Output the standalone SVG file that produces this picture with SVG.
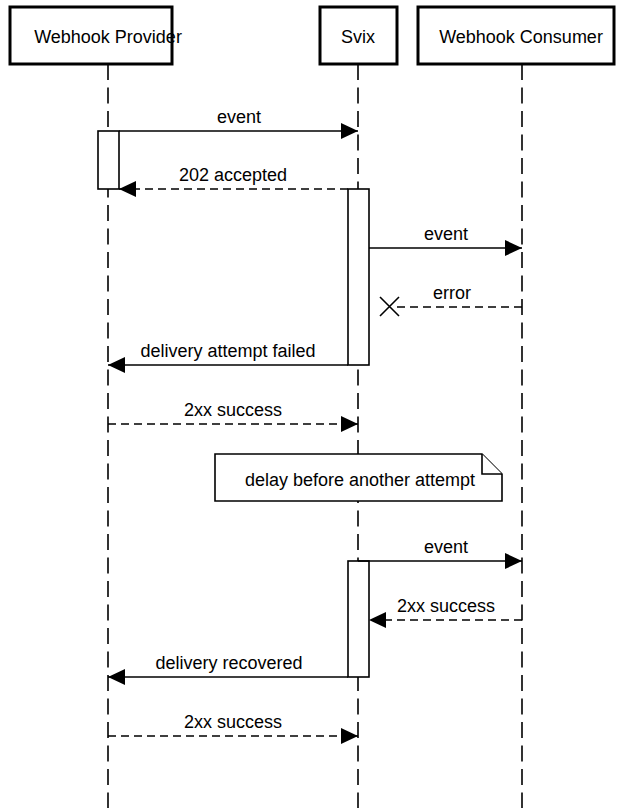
<svg xmlns="http://www.w3.org/2000/svg" width="620" height="808" viewBox="0 0 620 808">
<defs>
<marker id="arr" markerWidth="18" markerHeight="16" refX="17" refY="8" orient="auto" markerUnits="userSpaceOnUse">
<path d="M0,0 L17,8 L0,16 Z" fill="#000"/>
</marker>
</defs>
<style>
.actor{fill:#fff;stroke:#000;stroke-width:3}
.life{stroke:#000;stroke-width:1.6;stroke-dasharray:16 7.5;fill:none}
.act{fill:#fff;stroke:#000;stroke-width:1.6}
.msg{stroke:#000;stroke-width:1.6;fill:none}
.ret{stroke:#000;stroke-width:1.6;fill:none;stroke-dasharray:8 5}
text{font-family:"Liberation Sans",Arial,sans-serif;font-size:18px;fill:#000;text-anchor:middle}
.note{fill:#fff;stroke:#000;stroke-width:1.6}
</style>
<g id="lifelines">
<line class="life" x1="108" y1="64" x2="108" y2="808"/>
<line class="life" x1="358" y1="64" x2="358" y2="808"/>
<line class="life" x1="522" y1="64" x2="522" y2="808"/>
</g>
<g id="provider">
<rect class="actor" x="10" y="7" width="162" height="57"/>
<text x="108" y="43">Webhook Provider</text>
</g>
<g id="svix">
<rect class="actor" x="320" y="7" width="77" height="57"/>
<text x="358" y="43">Svix</text>
</g>
<g id="consumer">
<rect class="actor" x="418" y="7" width="196" height="57"/>
<text x="521" y="43">Webhook Consumer</text>
</g>
<g id="activations">
<rect class="act" x="98" y="131" width="21" height="58"/>
<rect class="act" x="348" y="189" width="21" height="176"/>
<rect class="act" x="348" y="561" width="21" height="116"/>
</g>
<g id="note">
<path class="note" d="M215,454 H482 L502,474 V501 H215 Z"/>
<path class="note" d="M482,454 V474 H502" fill="none"/>
<text x="360" y="486">delay before another attempt</text>
</g>
<g id="connectors">
<line class="msg" x1="119" y1="131" x2="358" y2="131" marker-end="url(#arr)"/>
<text x="239" y="123">event</text>
<line class="ret" x1="348" y1="189" x2="119" y2="189" marker-end="url(#arr)"/>
<text x="233" y="181">202 accepted</text>
<line class="msg" x1="369" y1="248" x2="522" y2="248" marker-end="url(#arr)"/>
<text x="446" y="240">event</text>
<line class="ret" x1="522" y1="307" x2="394" y2="307"/>
<path class="msg" d="M380,297 L399,316 M380,316 L399,297"/>
<text x="452" y="299">error</text>
<line class="msg" x1="348" y1="365" x2="108" y2="365" marker-end="url(#arr)"/>
<text x="228" y="357">delivery attempt failed</text>
<line class="ret" x1="108" y1="424" x2="358" y2="424" marker-end="url(#arr)"/>
<text x="233" y="416">2xx success</text>
<line class="msg" x1="358" y1="561" x2="522" y2="561" marker-end="url(#arr)"/>
<text x="446" y="553">event</text>
<line class="ret" x1="522" y1="620" x2="369" y2="620" marker-end="url(#arr)"/>
<text x="446" y="612">2xx success</text>
<line class="msg" x1="348" y1="677" x2="108" y2="677" marker-end="url(#arr)"/>
<text x="229" y="669">delivery recovered</text>
<line class="ret" x1="108" y1="736" x2="358" y2="736" marker-end="url(#arr)"/>
<text x="233" y="728">2xx success</text>
</g>
</svg>
